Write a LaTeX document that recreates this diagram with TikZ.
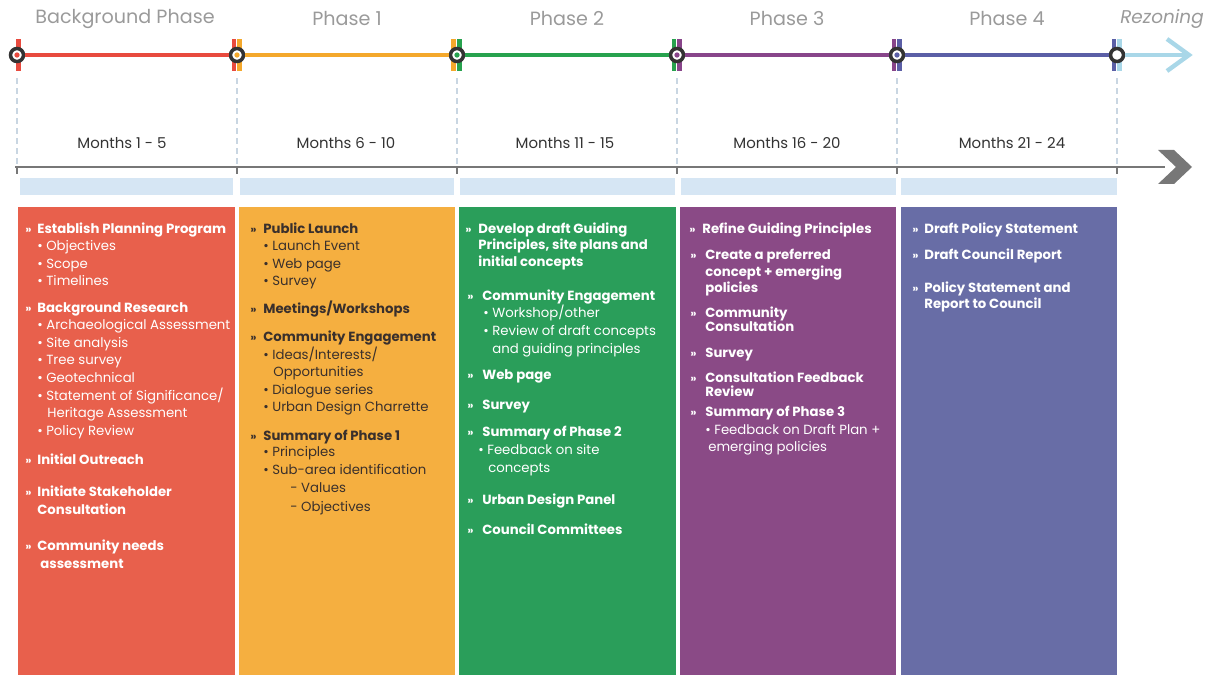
\documentclass[tikz,border=0pt]{standalone}
\usepackage{fontspec}
\setmainfont{Poppins}
\usetikzlibrary{positioning}

\definecolor{redph}{HTML}{E8604C}
\definecolor{orph}{HTML}{F5AF40}
\definecolor{grph}{HTML}{2A9E5A}
\definecolor{puph}{HTML}{8A4A86}
\definecolor{blph}{HTML}{686DA6}
\definecolor{redln}{HTML}{E84A3E}
\definecolor{orln}{HTML}{F4A82C}
\definecolor{grln}{HTML}{27A24E}
\definecolor{puln}{HTML}{88458A}
\definecolor{blln}{HTML}{5B5FA6}
\definecolor{lbln}{HTML}{A9D7E8}
\definecolor{barbl}{HTML}{D6E6F4}
\definecolor{dashc}{HTML}{C9D6E2}
\definecolor{axisc}{HTML}{777777}
\definecolor{ringc}{HTML}{333333}
\definecolor{darktx}{HTML}{3A302C}
\definecolor{titlec}{HTML}{9A9A9A}

\tikzset{
  ring/.style={circle,draw=ringc,line width=2pt,fill=white,minimum size=7.4pt,inner sep=0pt},
  phline/.style={line width=2.5pt},
  dashline/.style={draw=dashc,line width=0.9pt,dash pattern=on 3.4pt off 2.3pt},
  title/.style={font=\fontsize{10.9}{12}\selectfont,text=titlec},
  months/.style={font=\fontsize{8.5}{10}\selectfont,text=ringc},
  hd/.style={anchor=base west,inner sep=0pt,font=\fontsize{7.55}{8}\selectfont\bfseries},
  bd/.style={anchor=base west,inner sep=0pt,font=\fontsize{7.55}{8}\selectfont},
  chev/.style={anchor=base west,inner sep=0pt,font=\fontsize{6.3}{7}\selectfont\bfseries}
}

\begin{document}
\begin{tikzpicture}[x=0.02cm,y=-0.02cm]

\useasboundingbox (0,0) rectangle (1214,675);

% columns
\fill[redph] (18,207) rectangle (235,675);
\fill[orph] (239,207) rectangle (455,675);
\fill[grph] (459,207) rectangle (676,675);
\fill[puph] (680,207) rectangle (896,675);
\fill[blph] (901,207) rectangle (1117,675);

% light blue bars
\fill[barbl] (20,178) rectangle (233,195);
\fill[barbl] (240,178) rectangle (454,195);
\fill[barbl] (460,178) rectangle (675,195);
\fill[barbl] (681,178) rectangle (896,195);
\fill[barbl] (901,178) rectangle (1117,195);

% dashed guides
\draw[dashline] (17,78) -- (17,176);
\draw[dashline] (237,78) -- (237,176);
\draw[dashline] (457,78) -- (457,176);
\draw[dashline] (677,78) -- (677,176);
\draw[dashline] (897,78) -- (897,176);
\draw[dashline] (1117,78) -- (1117,176);

% colour bars at the markers
\fill[redln] (16,39) rectangle (21,71);
\fill[redln] (232,39) rectangle (236,71);
\fill[orln] (237,39) rectangle (242,71);
\fill[orln] (451,39) rectangle (456,71);
\fill[grln] (457,39) rectangle (462,71);
\fill[grln] (672,39) rectangle (676,71);
\fill[puln] (677,39) rectangle (682,71);
\fill[puln] (892,39) rectangle (896,71);
\fill[blln] (897,39) rectangle (902,71);
\fill[blln] (1112,39) rectangle (1116,71);
\fill[lbln] (1117,39) rectangle (1122,71);

% markers
\node[ring] (m0) at (17,55) {};
\node[ring] (m1) at (237,55) {};
\node[ring] (m2) at (457,55) {};
\node[ring] (m3) at (677,55) {};
\node[ring] (m4) at (897,55) {};
\node[ring] (m5) at (1117,55) {};
\coordinate (rz) at (1189,55);

\draw[phline,redln] (m0) -- (m1);
\draw[phline,orln] (m1) -- (m2);
\draw[phline,grln] (m2) -- (m3);
\draw[phline,puln] (m3) -- (m4);
\draw[phline,blln] (m4) -- (m5);
\draw[phline,lbln] (m5) -- (rz);
\draw[phline,lbln,line join=miter] (1167,39) -- (rz) -- (1167,71);

\fill[redln] (m0) circle (1.5pt);
\fill[orln] (m1) circle (1.5pt);
\fill[grln] (m2) circle (1.5pt);
\fill[puln] (m3) circle (1.5pt);
\fill[blln] (m4) circle (1.5pt);

% phase titles
\node[title] (t0) at (125,19) {Background Phase};
\node[title] (t1) at (347,19) {Phase 1};
\node[title] (t2) at (567,19) {Phase 2};
\node[title] (t3) at (787,19) {Phase 3};
\node[title] (t4) at (1007,19) {Phase 4};
\node[title,font=\fontsize{10.5}{12}\selectfont\itshape] (t5) at (1162,19) {Rezoning};

% months
\node[months] (n0) at (122,143) {Months 1 - 5};
\node[months] (n1) at (346,143) {Months 6 - 10};
\node[months] (n2) at (565,143) {Months 11 - 15};
\node[months] (n3) at (787,143) {Months 16 - 20};
\node[months] (n4) at (1012,143) {Months 21 - 24};

% time axis
\draw[axisc,line width=1.7pt] (15,167) -- (1165,167);
\draw[axisc,line width=1.4pt] (17,167) -- (17,174);
\draw[axisc,line width=1.4pt] (237,167) -- (237,174);
\draw[axisc,line width=1.4pt] (457,167) -- (457,174);
\draw[axisc,line width=1.4pt] (677,167) -- (677,174);
\draw[axisc,line width=1.4pt] (897,167) -- (897,174);
\draw[axisc,line width=1.4pt] (1117,167) -- (1117,174);
\fill[axisc] (1158,150) -- (1174,150) -- (1192,167) -- (1174,184) -- (1158,184) -- (1176,167) -- cycle;

% background phase
\begin{scope}[every node/.append style={text=white}]
\node[chev] (ra1) at (25,234) {»};
\node[hd] (r1) at (37,234) {Establish Planning Program};
\node[bd] (r2) at (37,251) {•\hspace{2pt}Objectives};
\node[bd] (r3) at (37,269) {•\hspace{2pt}Scope};
\node[bd] (r4) at (37,286) {•\hspace{2pt}Timelines};
\node[chev] (ra2) at (25,313) {»};
\node[hd] (r5) at (37,313) {Background Research};
\node[bd] (r6) at (37,330) {•\hspace{2pt}Archaeological Assessment};
\node[bd] (r7) at (37,348) {•\hspace{2pt}Site analysis};
\node[bd] (r8) at (37,365) {•\hspace{2pt}Tree survey};
\node[bd] (r9) at (37,383) {•\hspace{2pt}Geotechnical};
\node[bd] (r10) at (37,401) {•\hspace{2pt}Statement of Significance/};
\node[bd] (r11) at (47,418) {Heritage Assessment};
\node[bd] (r12) at (37,436) {•\hspace{2pt}Policy Review};
\node[chev] (ra3) at (25,464) {»};
\node[hd] (r13) at (37,464) {Initial Outreach};
\node[chev] (ra4) at (25,497) {»};
\node[hd] (r14) at (37,497) {Initiate Stakeholder};
\node[hd] (r15) at (37,515) {Consultation};
\node[chev] (ra5) at (25,550) {»};
\node[hd] (r16) at (37,550) {Community needs};
\node[hd] (r17) at (40,568) {assessment};
\end{scope}

% phase 1
\begin{scope}[every node/.append style={text=darktx}]
\node[chev] (oa1) at (250,234) {»};
\node[hd] (o1) at (263,234) {Public Launch};
\node[bd] (o2) at (263,251) {•\hspace{2pt}Launch Event};
\node[bd] (o3) at (263,269) {•\hspace{2pt}Web page};
\node[bd] (o4) at (263,286) {•\hspace{2pt}Survey};
\node[chev] (oa2) at (250,314) {»};
\node[hd] (o5) at (263,314) {Meetings/Workshops};
\node[chev] (oa3) at (250,342) {»};
\node[hd] (o6) at (263,342) {Community Engagement};
\node[bd] (o7) at (263,360) {•\hspace{2pt}Ideas/Interests/};
\node[bd] (o8) at (273,377) {Opportunities};
\node[bd] (o9) at (263,395) {•\hspace{2pt}Dialogue series};
\node[bd] (o10) at (263,412) {•\hspace{2pt}Urban Design Charrette};
\node[chev] (oa4) at (250,440) {»};
\node[hd] (o11) at (263,440) {Summary of Phase 1};
\node[bd] (o12) at (263,457) {•\hspace{2pt}Principles};
\node[bd] (o13) at (263,475) {•\hspace{2pt}Sub-area identification};
\node[bd] (o14) at (290,493) {- Values};
\node[bd] (o15) at (290,511) {- Objectives};
\end{scope}

% phase 2
\begin{scope}[every node/.append style={text=white}]
\node[chev] (ga1) at (465,234) {»};
\node[hd] (g1) at (478,234) {Develop draft Guiding};
\node[hd] (g2) at (478,250) {Principles, site plans and};
\node[hd] (g3) at (478,267) {initial concepts};
\node[chev] (ga2) at (467,301) {»};
\node[hd] (g4) at (482,301) {Community Engagement};
\node[bd] (g5) at (483,318) {•\hspace{2pt}Workshop/other};
\node[bd] (g6) at (483,336) {•\hspace{2pt}Review of draft concepts};
\node[bd] (g7) at (492,354) {and guiding principles};
\node[chev] (ga3) at (467,380) {»};
\node[hd] (g8) at (482,380) {Web page};
\node[chev] (ga4) at (467,410) {»};
\node[hd] (g9) at (482,410) {Survey};
\node[chev] (ga5) at (467,437) {»};
\node[hd] (g10) at (482,437) {Summary of Phase 2};
\node[bd] (g11) at (478,455) {•\hspace{2pt}Feedback on site};
\node[bd] (g12) at (488,473) {concepts};
\node[chev] (ga6) at (467,504) {»};
\node[hd] (g13) at (482,504) {Urban Design Panel};
\node[chev] (ga7) at (467,534) {»};
\node[hd] (g14) at (482,534) {Council Committees};
\end{scope}

% phase 3
\begin{scope}[every node/.append style={text=white}]
\node[chev] (pa1) at (689,234) {»};
\node[hd] (p1) at (702,234) {Refine Guiding Principles};
\node[chev] (pa2) at (690,260) {»};
\node[hd] (p2) at (705,260) {Create a preferred};
\node[hd] (p3) at (705,277) {concept + emerging};
\node[hd] (p4) at (705,293) {policies};
\node[chev] (pa3) at (690,318) {»};
\node[hd] (p5) at (705,318) {Community};
\node[hd] (p6) at (705,332) {Consultation};
\node[chev] (pa4) at (690,358) {»};
\node[hd] (p7) at (705,358) {Survey};
\node[chev] (pa5) at (690,383) {»};
\node[hd] (p8) at (705,383) {Consultation Feedback};
\node[hd] (p9) at (705,397) {Review};
\node[chev] (pa6) at (690,417) {»};
\node[hd] (p10) at (705,417) {Summary of Phase 3};
\node[bd] (p11) at (705,435) {•\hspace{2pt}Feedback on Draft Plan +};
\node[bd] (p12) at (708,452) {emerging policies};
\end{scope}

% phase 4
\begin{scope}[every node/.append style={text=white}]
\node[chev] (ba1) at (912,234) {»};
\node[hd] (b1) at (924,234) {Draft Policy Statement};
\node[chev] (ba2) at (912,260) {»};
\node[hd] (b2) at (924,260) {Draft Council Report};
\node[chev] (ba3) at (912,293) {»};
\node[hd] (b3) at (924,293) {Policy Statement and};
\node[hd] (b4) at (924,309) {Report to Council};
\end{scope}

\end{tikzpicture}
\end{document}
